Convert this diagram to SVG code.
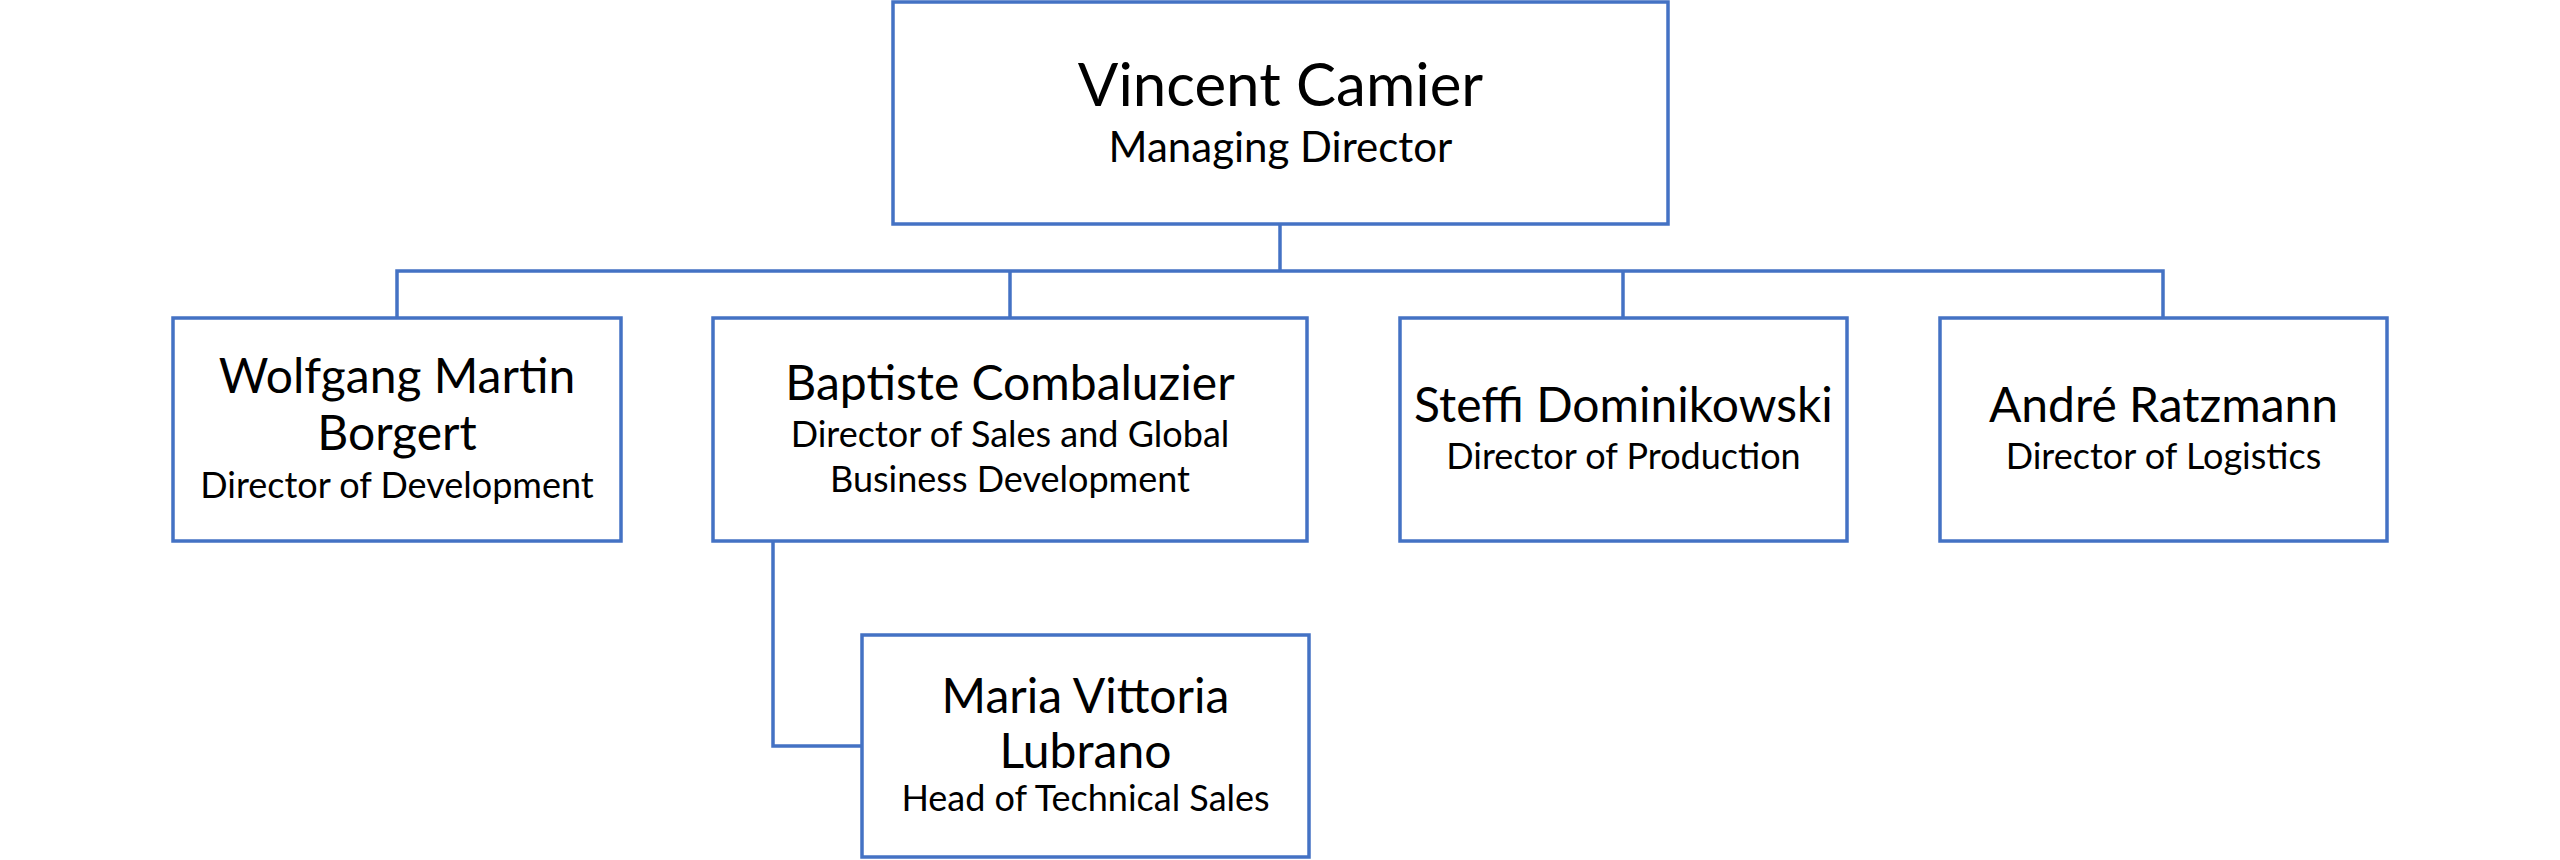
<svg xmlns="http://www.w3.org/2000/svg" width="2560" height="860" viewBox="0 0 2560 860">
<style>
.box{fill:#ffffff;stroke:#4472C4;stroke-width:3.5}
.conn{fill:none;stroke:#4472C4;stroke-width:3.5}
text{font-family:Lato,"Liberation Sans",sans-serif;fill:#000;text-anchor:middle}
.top{font-size:60px}
.topsub{font-size:42px}
.name{font-size:48px}
.sub{font-size:36px}
</style>
<rect width="2560" height="860" fill="#ffffff"/>
<g id="connectors">
<path class="conn" d="M1280,224 V271"/>
<path class="conn" d="M397,318 V271 H2163 V318"/>
<path class="conn" d="M1010,271 V318"/>
<path class="conn" d="M1623,271 V318"/>
<path class="conn" d="M773,541 V746 H862"/>
</g>
<g id="vincent">
<rect class="box" x="893" y="2" width="775" height="222"/>
<text class="top" x="1280.5" y="106">Vincent Camier</text>
<text class="topsub" x="1280.5" y="162">Managing Director</text>
</g>
<g id="wolfgang">
<rect class="box" x="173" y="318" width="448" height="223"/>
<text class="name" x="397" y="393">Wolfgang Martin</text>
<text class="name" x="397" y="450">Borgert</text>
<text class="sub" x="397" y="498">Director of Development</text>
</g>
<g id="baptiste">
<rect class="box" x="713" y="318" width="594" height="223"/>
<text class="name" x="1010" y="400">Baptiste Combaluzier</text>
<text class="sub" x="1010" y="447">Director of Sales and Global</text>
<text class="sub" x="1010" y="492">Business Development</text>
</g>
<g id="steffi">
<rect class="box" x="1400" y="318" width="447" height="223"/>
<text class="name" x="1623.5" y="422">Steffi Dominikowski</text>
<text class="sub" x="1623.5" y="469">Director of Production</text>
</g>
<g id="andre">
<rect class="box" x="1940" y="318" width="447" height="223"/>
<text class="name" x="2163.5" y="422">André Ratzmann</text>
<text class="sub" x="2163.5" y="469">Director of Logistics</text>
</g>
<g id="maria">
<rect class="box" x="862" y="635" width="447" height="222"/>
<text class="name" x="1085.5" y="713">Maria Vittoria</text>
<text class="name" x="1085.5" y="768">Lubrano</text>
<text class="sub" x="1085.5" y="811">Head of Technical Sales</text>
</g>
</svg>
